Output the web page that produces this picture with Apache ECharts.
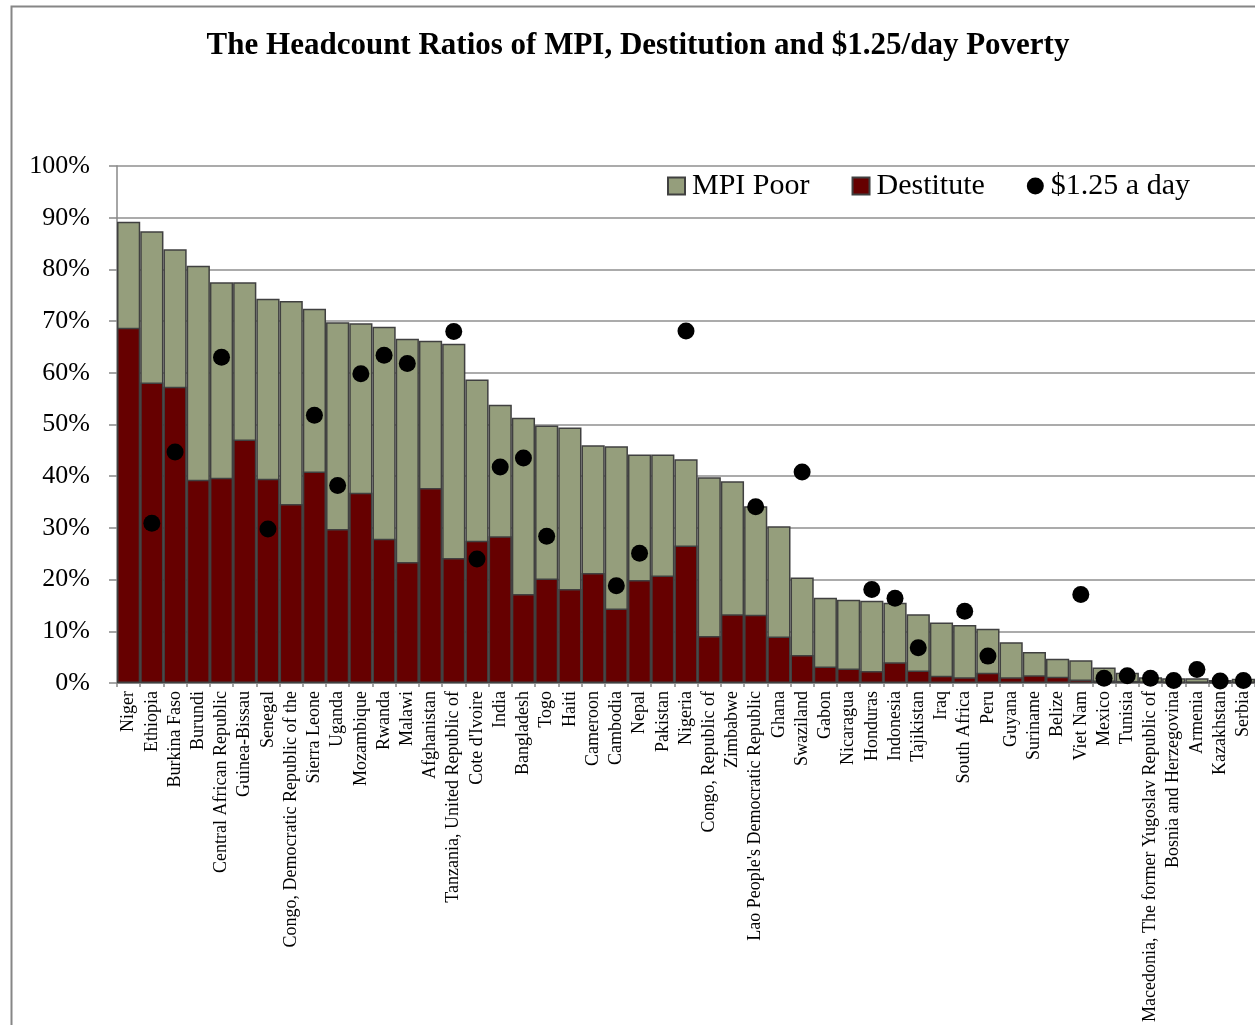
<!DOCTYPE html>
<html>
<head>
<meta charset="utf-8">
<script src="https://cdn.jsdelivr.net/npm/echarts@6/dist/echarts.min.js"></script>
<style>
html,body{margin:0;padding:0;background:#fff;}
#main{width:1255px;height:1025px;}
</style>
</head>
<body>
<div id="main"></div>
<script>
const countries = ["Niger","Ethiopia","Burkina Faso","Burundi","Central African Republic","Guinea-Bissau","Senegal","Congo, Democratic Republic of the","Sierra Leone","Uganda","Mozambique","Rwanda","Malawi","Afghanistan","Tanzania, United Republic of","Cote d'Ivoire","India","Bangladesh","Togo","Haiti","Cameroon","Cambodia","Nepal","Pakistan","Nigeria","Congo, Republic of","Zimbabwe","Lao People's Democratic Republic","Ghana","Swaziland","Gabon","Nicaragua","Honduras","Indonesia","Tajikistan","Iraq","South Africa","Peru","Guyana","Suriname","Belize","Viet Nam","Mexico","Tunisia","Macedonia, The former Yugoslav Republic of","Bosnia and Herzegovina","Armenia","Kazakhstan","Serbia"];
const mpiPoor = [89.2,87.4,83.9,80.7,77.5,77.5,74.3,73.9,72.4,69.8,69.6,68.9,66.6,66.2,65.6,58.7,53.8,51.3,49.8,49.4,46.0,45.8,44.2,44.2,43.3,39.8,39.0,34.2,30.3,20.4,16.5,16.1,15.9,15.5,13.3,11.7,11.2,10.5,7.9,6.0,4.7,4.4,3.0,2.0,1.1,0.9,0.9,0.6,0.8];
const destitute = [68.7,58.1,57.3,39.3,39.7,47.1,39.5,34.6,40.9,29.8,36.8,27.9,23.4,37.7,24.2,27.5,28.4,17.2,20.2,18.2,21.3,14.4,19.9,20.8,26.6,9.1,13.3,13.2,9.0,5.4,3.2,2.8,2.3,4.0,2.4,1.4,1.1,2.0,1.1,1.5,1.2,0.7,0.5,0.4,0.3,0.2,0.2,0.1,0.2];
const dollarDay = [null,30.9,44.7,null,63.0,null,29.8,null,51.8,38.2,59.8,63.4,61.8,null,68.0,24.0,41.8,43.5,28.4,null,null,18.8,25.1,null,68.1,null,null,34.1,null,40.8,null,null,18.1,16.4,6.8,null,13.9,5.2,null,null,null,17.1,0.9,1.4,0.9,0.5,2.6,0.4,0.5];
const yTicks = [0,10,20,30,40,50,60,70,80,90,100];

const FONT = "'Liberation Serif', 'DejaVu Serif', serif";
const chart = echarts.init(document.getElementById('main'));
chart.setOption({
  animation: false,
  backgroundColor: '#fff',
  graphic: [{
    type: 'rect', left: 9, top: 4,
    shape: {x: 0, y: 0, width: 1400, height: 1200},
    style: {fill: 'none', stroke: '#868686', lineWidth: 2},
    silent: true, z: -10
  }],
  title: {
    text: 'The Headcount Ratios of MPI, Destitution and $1.25/day Poverty',
    left: 633, top: 25, textAlign: 'center',
    textStyle: {fontFamily: FONT, fontWeight: 'bold', fontSize: 31, color: '#000'}
  },
  legend: {
    left: 662, top: 166,
    itemWidth: 17, itemHeight: 17, itemGap: 42,
    textStyle: {fontFamily: FONT, fontSize: 30, color: '#000', padding: [0,0,0,2]},
    data: [
      {name: 'MPI Poor', icon: 'rect'},
      {name: 'Destitute', icon: 'rect'},
      {name: '$1.25 a day', icon: 'circle'}
    ]
  },
  grid: {left: 117, right: 0, top: 166, bottom: 342, containLabel: false},
  xAxis: {
    type: 'category',
    data: countries,
    axisLine: {lineStyle: {color: '#888', width: 2}},
    axisTick: {show: true, length: 4, lineStyle: {color: '#888', width: 1.5}},
    axisLabel: {interval: 0, rotate: 90, margin: 8, fontFamily: FONT, fontSize: 18, color: '#000'}
  },
  yAxis: {
    type: 'value', min: 0, max: 100, interval: 10,
    axisLine: {show: true, lineStyle: {color: '#888', width: 1.5}},
    axisTick: {show: true, length: 8, lineStyle: {color: '#888', width: 1.5}},
    axisLabel: {formatter: v => yTicks.includes(v) ? v + '%' : '', margin: 27, fontFamily: FONT, fontSize: 26, color: '#000'},
    splitLine: {lineStyle: {color: '#8f8f8f', width: 1.5}}
  },
  series: [
    {
      name: 'MPI Poor', type: 'bar', data: mpiPoor,
      barGap: '-100%', barCategoryGap: 0,
      itemStyle: {color: '#959e7c', borderColor: '#404040', borderWidth: 1.5},
      z: 2
    },
    {
      name: 'Destitute', type: 'bar', data: destitute,
      barGap: '-100%', barCategoryGap: 0,
      itemStyle: {color: '#660000', borderColor: '#404040', borderWidth: 1.5},
      z: 3
    },
    {
      name: '$1.25 a day', type: 'scatter', data: dollarDay,
      symbol: 'circle', symbolSize: 17,
      itemStyle: {color: '#000', opacity: 1},
      z: 5
    }
  ]
});
</script>
</body>
</html>
